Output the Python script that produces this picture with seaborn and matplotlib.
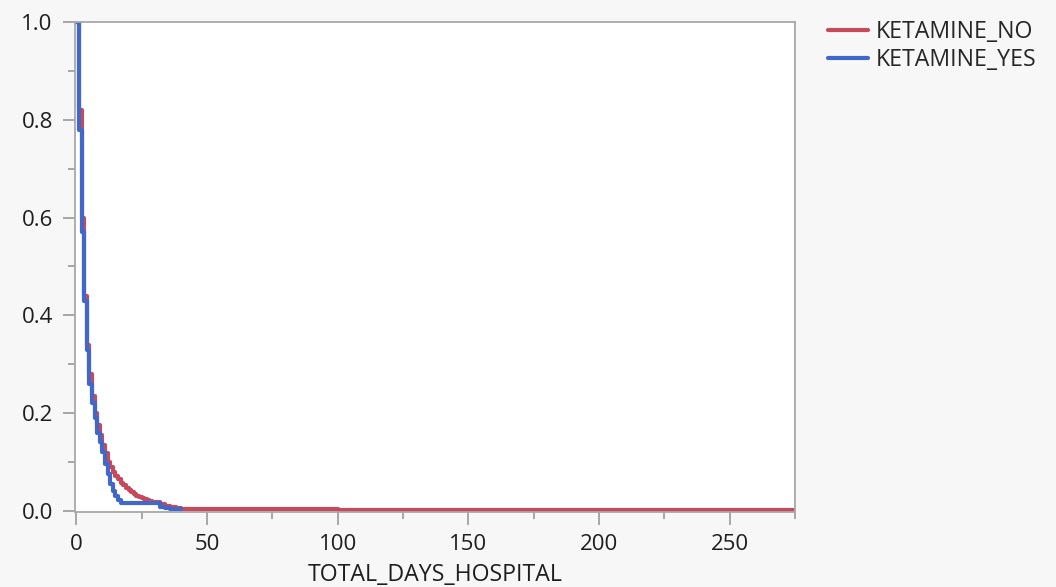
import matplotlib
matplotlib.use("Agg")
import matplotlib.pyplot as plt
import pandas as pd
import seaborn as sns
from matplotlib.ticker import FormatStrFormatter, MultipleLocator

# step survival estimates (day -> fraction still in hospital)
days_no = [0, 1, 2, 3, 4, 5, 6, 7, 8, 9, 10, 11, 12, 13, 14, 15, 16, 17, 18, 19, 20,
           21, 22, 23, 24, 25, 26, 27, 28, 29, 30, 32, 34, 36, 38, 40, 50, 70, 100, 150, 230, 275]
surv_no = [1.0, 0.82, 0.60, 0.44, 0.34, 0.28, 0.235, 0.20, 0.175, 0.155, 0.135, 0.118, 0.10,
           0.09, 0.08, 0.072, 0.065, 0.058, 0.052, 0.047, 0.042, 0.038, 0.034, 0.031, 0.028,
           0.026, 0.024, 0.022, 0.02, 0.019, 0.018, 0.014, 0.010, 0.008, 0.006, 0.004, 0.0035,
           0.003, 0.0025, 0.002, 0.0015, 0.0015]

days_yes = [0, 1, 2, 3, 4, 5, 6, 7, 8, 9, 10, 11, 12, 13, 14, 15, 16, 17, 32, 34, 36, 40]
surv_yes = [1.0, 0.78, 0.57, 0.43, 0.33, 0.26, 0.22, 0.19, 0.16, 0.14, 0.12, 0.095, 0.075,
            0.055, 0.04, 0.03, 0.022, 0.016, 0.008, 0.006, 0.004, 0.003]

groups = ["KETAMINE_NO", "KETAMINE_YES"]
colors = ["#c64a5c", "#4068c8"]

df = pd.concat([
    pd.DataFrame({"TOTAL_DAYS_HOSPITAL": days_no, "surv": surv_no, "group": groups[0]}),
    pd.DataFrame({"TOTAL_DAYS_HOSPITAL": days_yes, "surv": surv_yes, "group": groups[1]}),
])

sns.set_style("white")
plt.rcParams["font.family"] = ["Open Sans", "DejaVu Sans"]

fig = plt.figure(figsize=(10.56, 5.87), dpi=100, facecolor="#f7f7f7")
ax = fig.add_axes([0.071, 0.128, 0.682, 0.8345])
ax.set_facecolor("white")

sns.lineplot(data=df, x="TOTAL_DAYS_HOSPITAL", y="surv", hue="group", palette=colors,
             hue_order=groups, drawstyle="steps-post", estimator=None, linewidth=3,
             ax=ax, legend=False)

ax.set_xlim(-0.5, 275)
ax.set_ylim(-0.002, 1.0)
ax.xaxis.set_major_locator(MultipleLocator(50))
ax.xaxis.set_minor_locator(MultipleLocator(25))
ax.yaxis.set_major_locator(MultipleLocator(0.2))
ax.yaxis.set_minor_locator(MultipleLocator(0.1))
ax.yaxis.set_major_formatter(FormatStrFormatter("%.1f"))
ax.tick_params(which="major", length=9, width=1.3, color="#a0a0a0", labelsize=16,
               labelcolor="#1e1e1e", direction="out", bottom=True, left=True, pad=7)
ax.tick_params(which="minor", length=5, width=1.3, color="#a0a0a0", direction="out",
               bottom=True, left=True)
for side in ["left", "bottom", "top", "right"]:
    ax.spines[side].set_color("#a8a8a8")
    ax.spines[side].set_linewidth(1.3)
ax.set_xlabel("TOTAL_DAYS_HOSPITAL", fontsize=16.7, color="#1e1e1e", labelpad=6)
ax.set_ylabel("")

handles = [plt.Line2D([], [], color=c, linewidth=3) for c in colors]
fig.legend(handles, groups, loc="upper left", bbox_to_anchor=(0.769, 0.993), frameon=False,
           fontsize=16.7, handlelength=1.7, handletextpad=0.35, labelspacing=0.15,
           borderaxespad=0.3)

fig.savefig("out.png", dpi=100, facecolor=fig.get_facecolor())
